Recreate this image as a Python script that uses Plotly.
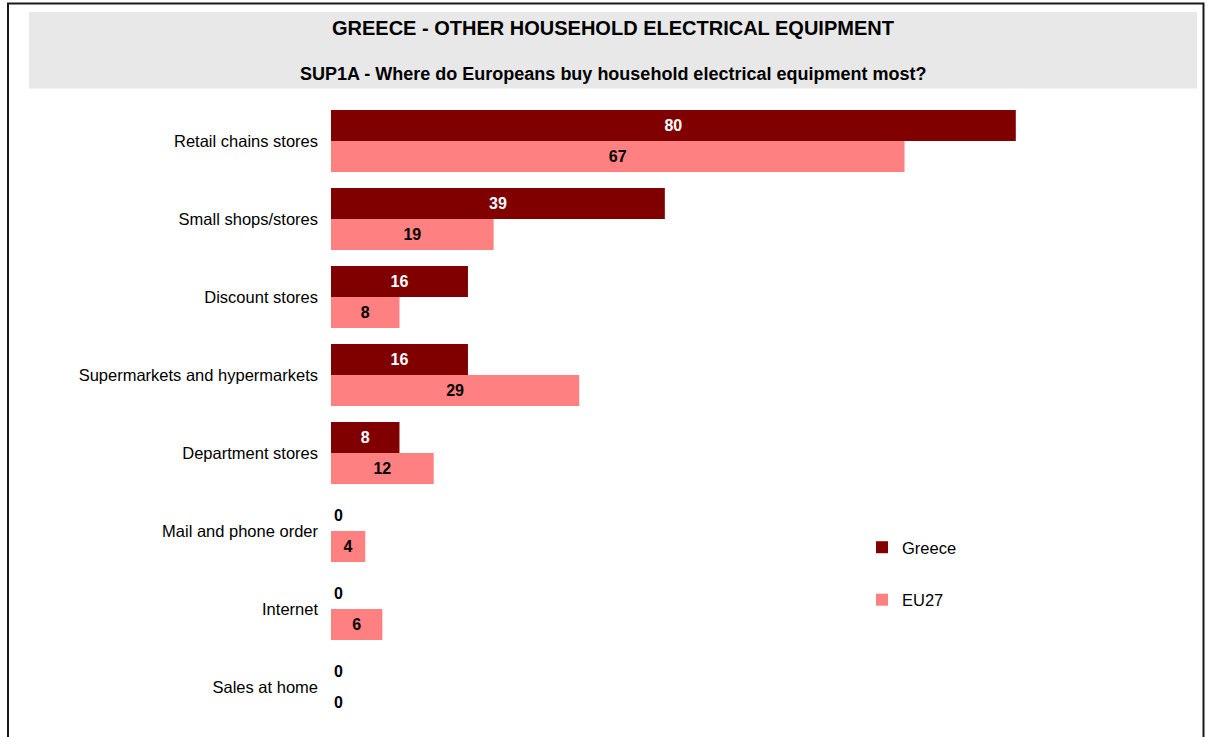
import plotly.graph_objects as go

categories = ["Retail chains stores", "Small shops/stores", "Discount stores",
              "Supermarkets and hypermarkets", "Department stores",
              "Mail and phone order", "Internet", "Sales at home"]
greece = [80, 39, 16, 16, 8, 0, 0, 0]
eu27 = [67, 19, 8, 29, 12, 4, 6, 0]
series_names = ["Greece", "EU27"]
title = "GREECE - OTHER HOUSEHOLD ELECTRICAL EQUIPMENT"
subtitle = "SUP1A - Where do Europeans buy household electrical equipment most?"

W, H = 1207, 737
ML, MR, MT, MB = 331, 20, 102, 11
PW, PH = W - ML - MR, H - MT - MB


def px(x):
    return (x - ML) / PW


def py(y):
    return (H - MB - y) / PH


FONT = "Liberation Sans, Arial, sans-serif"

fig = go.Figure()
for name, vals, col, tcol, lg in [
    (series_names[0], greece, "#800000", "white", "g1"),
    (series_names[1], eu27, "#FF8080", "black", "g2"),
]:
    fig.add_trace(go.Bar(
        y=categories, x=vals, name=name, orientation="h",
        marker=dict(color=col, line=dict(width=0)),
        text=[str(v) for v in vals],
        textposition=["inside" if v > 0 else "outside" for v in vals],
        insidetextanchor="middle",
        insidetextfont=dict(color=tcol, size=16, family=FONT, weight="bold"),
        outsidetextfont=dict(color="black", size=16, family=FONT, weight="bold"),
        cliponaxis=False,
        legendgroup=lg,
    ))

shapes = [
    # outer frame
    dict(type="rect", xref="paper", yref="paper",
         x0=px(8), x1=px(1203.5), y0=py(760), y1=py(3.5),
         line=dict(color="#1a1a1a", width=2), fillcolor="rgba(0,0,0,0)", layer="below"),
    # title band
    dict(type="rect", xref="paper", yref="paper",
         x0=px(29), x1=px(1197), y0=py(88.5), y1=py(12),
         line=dict(width=0), fillcolor="#E8E8E8", layer="below"),
]
annotations = [
    dict(text="<b>" + title + "</b>", xref="paper", yref="paper",
         x=px(613), y=py(28), xanchor="center", yanchor="middle", showarrow=False,
         font=dict(size=20, family=FONT, color="black")),
    dict(text="<b>" + subtitle + "</b>", xref="paper", yref="paper",
         x=px(612.5), y=py(73.5), xanchor="center", yanchor="middle", showarrow=False,
         font=dict(size=18, family=FONT, color="black")),
]

fig.update_layout(
    width=W, height=H,
    margin=dict(l=ML, r=MR, t=MT, b=MB, pad=0),
    paper_bgcolor="white", plot_bgcolor="white",
    barmode="group", bargap=0.205, bargroupgap=0,
    font=dict(family=FONT, size=16, color="black"),
    shapes=shapes, annotations=annotations,
    showlegend=True,
    legend=dict(x=px(862), y=py(530), xanchor="left", yanchor="top",
                xref="paper", yref="paper",
                font=dict(size=16.5, family=FONT, color="black"),
                bgcolor="rgba(0,0,0,0)", tracegroupgap=28, traceorder="grouped"),
    xaxis=dict(range=[0, 100], visible=False, fixedrange=True),
    yaxis=dict(autorange="reversed", showgrid=False, zeroline=False, showline=False,
               ticks="", ticklabelstandoff=12, fixedrange=True,
               tickfont=dict(size=16.5, family=FONT, color="black")),
)

fig.write_html("out.html",
               config={"displayModeBar": False},
               post_script="document.body.style.margin='0';document.body.style.overflow='hidden';")
